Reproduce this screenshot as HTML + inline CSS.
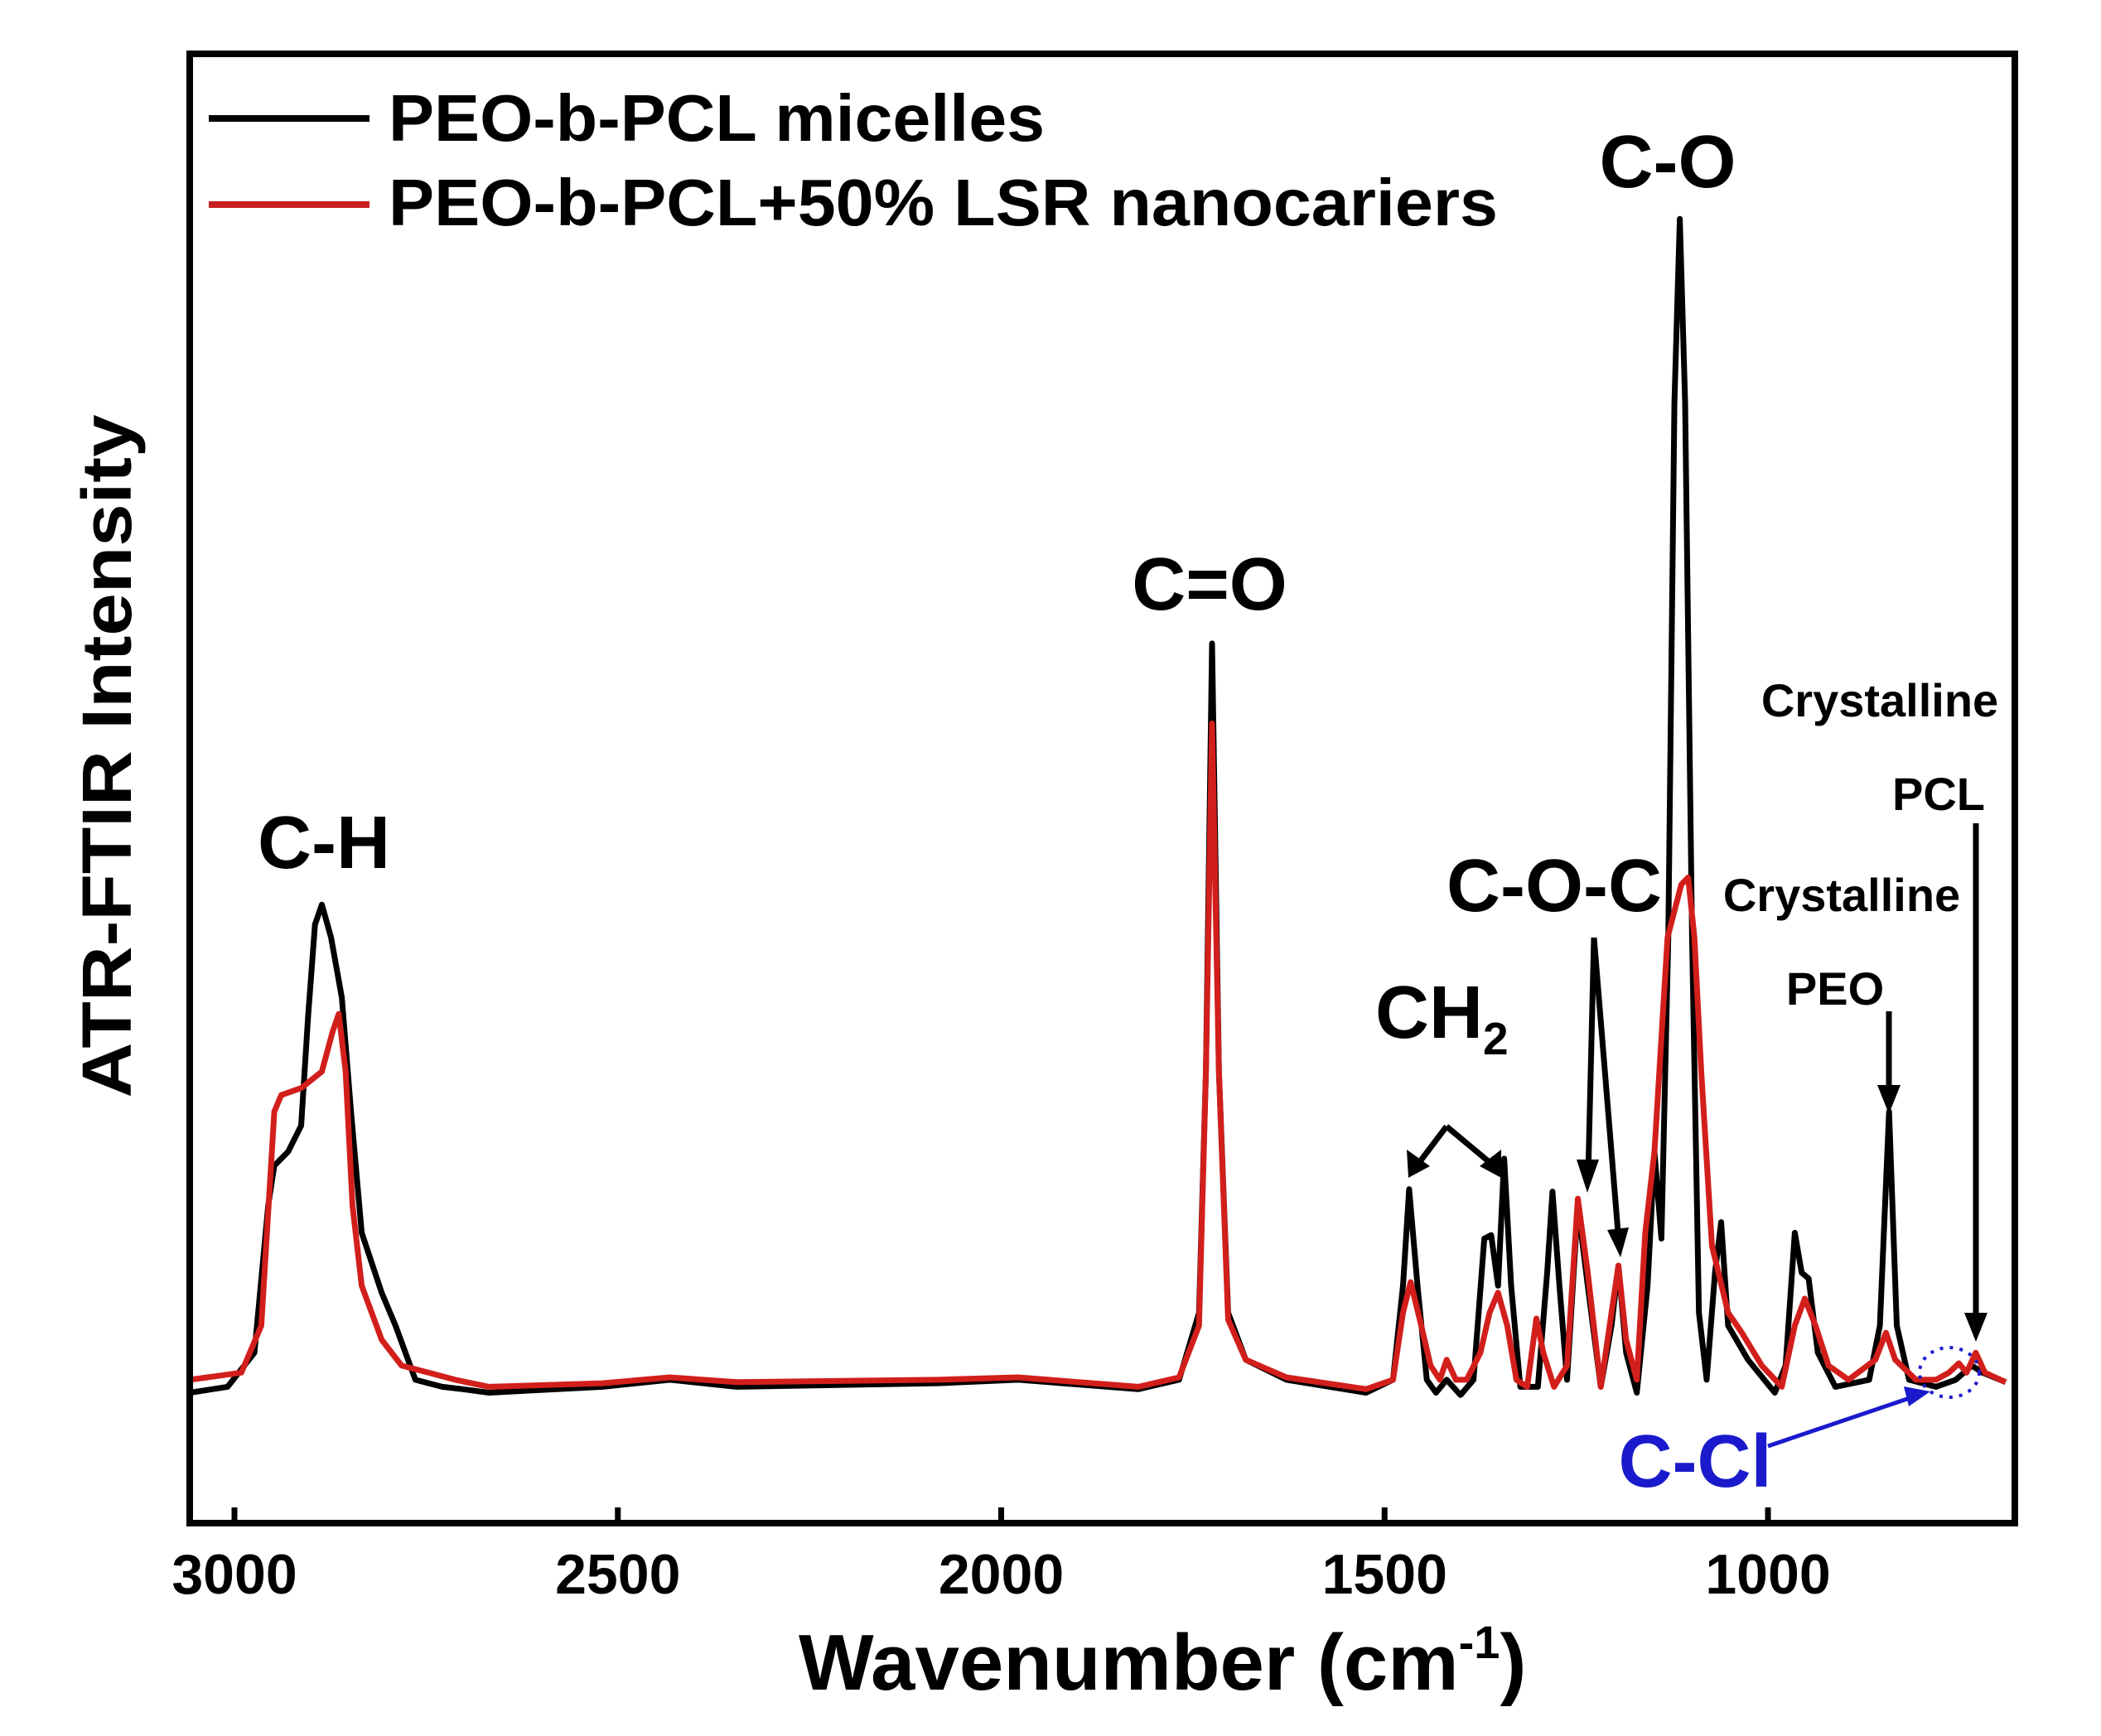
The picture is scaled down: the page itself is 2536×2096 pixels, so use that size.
<!DOCTYPE html>
<html><head><meta charset="utf-8"><style>
html,body{margin:0;padding:0;background:#fff;}
svg{display:block;font-family:"Liberation Sans",Arial,sans-serif;font-weight:bold;}
</style></head><body>
<svg id="chart" width="2536" height="2096" viewBox="0 0 2536 2096" xmlns="http://www.w3.org/2000/svg">
<rect x="0" y="0" width="2536" height="2096" fill="#fff"/>
<g id="series"></g>
<g id="ticks"></g>
<rect x="229" y="65" width="2203" height="1774" fill="none" stroke="#000" stroke-width="8"/>
<g>
<line x1="252" y1="143" x2="446" y2="143" stroke="#000" stroke-width="8"/>
<text x="469" y="170" font-size="80" textLength="792" lengthAdjust="spacingAndGlyphs">PEO-b-PCL micelles</text>
<line x1="252" y1="247" x2="446" y2="247" stroke="#c8201e" stroke-width="8"/>
<text x="469" y="272" font-size="80" textLength="1339" lengthAdjust="spacingAndGlyphs">PEO-b-PCL+50% LSR nanocariers</text>
</g>
<g fill="#000">
<text x="2013" y="226" font-size="90" text-anchor="middle">C-O</text>
<text x="1460" y="736" font-size="90" text-anchor="middle">C=O</text>
<text x="391" y="1048" font-size="90" text-anchor="middle">C-H</text>
<text x="1660" y="1253" font-size="90">CH<tspan font-size="55" dy="20">2</tspan></text>
<text x="1876" y="1100" font-size="90" text-anchor="middle">C-O-C</text>
<text x="2269" y="865" font-size="56" text-anchor="middle">Crystalline</text>
<text x="2340" y="978" font-size="56" text-anchor="middle">PCL</text>
<text x="2223" y="1100" font-size="56" text-anchor="middle">Crystalline</text>
<text x="2215" y="1213" font-size="56" text-anchor="middle">PEO</text>
<text x="2046" y="1795" font-size="90" text-anchor="middle" fill="#1a1acc">C-Cl</text>
</g>
<g stroke="#000" stroke-width="7" fill="none">
<polyline points="1746,1360 1712,1405"/>
<polyline points="1746,1360 1800,1405"/>
<line x1="1924" y1="1132" x2="1917" y2="1420"/>
<line x1="1924" y1="1132" x2="1954" y2="1500"/>
<line x1="2280" y1="1221" x2="2280" y2="1330"/>
<line x1="2385" y1="994" x2="2385" y2="1605"/>
<line x1="2134" y1="1746" x2="2305" y2="1688" stroke="#1a1acc" stroke-width="5"/>
<ellipse cx="2353" cy="1657" rx="36" ry="30" stroke="#1a1acc" stroke-width="4" stroke-dasharray="4 8"/>
</g>
<g fill="#000">
<polygon points="1700,1422 1698,1388 1726,1408"/>
<polygon points="1812,1422 1786,1408 1812,1388"/>
<polygon points="1903,1400 1930,1400 1916,1440"/>
<polygon points="1940,1485 1966,1482 1956,1518"/>
<polygon points="2266,1310 2294,1310 2280,1345"/>
<polygon points="2371,1585 2399,1585 2385,1620"/>
<polygon fill="#1a1acc" points="2330,1680 2298,1674 2304,1698"/>
</g>
<text transform="translate(158,913) rotate(-90)" font-size="84" text-anchor="middle" textLength="825" lengthAdjust="spacingAndGlyphs">ATR-FTIR Intensity</text>
<text x="964" y="2040" font-size="96">Wavenumber (cm<tspan font-size="56" dy="-38">-1</tspan><tspan dy="38">)</tspan></text>
</svg>
<script>
const tickValues = [3000, 2500, 2000, 1500, 1000];
const tickLabels = ["3000", "2500", "2000", "1500", "1000"];
const micellesWavenumber = [3058,3009,2974,2956,2948,2930,2913,2904,2895,2886,2874,2860,2848,2834,2808,2790,2764,2729,2703,2668,2520,2432,2345,2083,1978,1821,1768,1742,1733,1725,1716,1704,1681,1628,1524,1489,1476,1468,1457,1445,1433,1419,1401,1384,1370,1361,1352,1344,1335,1323,1300,1288,1281,1272,1262,1248,1235,1218,1204,1195,1185,1171,1157,1148,1139,1130,1122,1115,1108,1099,1090,1080,1069,1061,1052,1026,991,977,965,956,947,935,912,868,854,842,832,816,781,755,734,720,690];
const micellesIntensity = [0.6,1.1,4.0,16.5,19.9,21.1,23.3,32.5,40.4,42.1,39.3,34.2,24.5,14.2,9.1,6.3,1.7,1.1,0.9,0.6,1.1,1.7,1.1,1.4,1.7,0.9,1.7,7.4,27.9,64.3,27.9,7.4,3.4,1.7,0.6,1.7,9.7,17.9,9.7,1.7,0.6,1.7,0.4,1.7,13.7,14.0,9.7,20.5,9.7,1.1,1.1,10.8,17.7,9.7,1.7,16.5,9.7,1.1,6.3,11.4,4.0,0.6,9.7,21.1,13.7,39.3,84.8,100.4,84.8,39.3,7.4,1.7,10.8,15.1,6.3,3.4,0.6,2.9,14.2,10.8,10.3,4.0,1.1,1.7,6.3,24.5,6.3,1.7,1.1,1.7,2.9,2.3,1.5];
const nanoWavenumber = [3058,2991,2965,2948,2939,2913,2886,2872,2864,2855,2846,2834,2808,2782,2747,2712,2668,2520,2432,2345,2083,1978,1821,1768,1742,1733,1725,1716,1704,1681,1628,1524,1489,1476,1466,1454,1440,1428,1419,1407,1393,1375,1363,1352,1340,1328,1314,1302,1293,1279,1262,1248,1235,1218,1204,1195,1185,1171,1160,1148,1131,1113,1104,1096,1087,1073,1052,1034,1008,982,965,952,938,921,895,860,846,834,807,781,764,751,741,729,717,690];
const nanoIntensity = [1.7,2.3,6.3,24.5,25.9,26.5,27.9,31.3,32.8,27.9,16.5,9.7,5.1,2.9,2.3,1.7,1.1,1.4,1.9,1.5,1.7,1.9,1.1,1.9,6.3,27.9,57.5,27.9,6.8,3.4,1.9,0.9,1.7,7.4,10.0,6.8,2.9,1.7,3.4,1.7,1.7,4.0,7.4,9.1,6.3,1.7,1.1,6.9,4.0,1.1,2.9,17.1,10.8,1.1,7.4,11.4,5.1,1.7,14.2,21.1,39.3,43.8,44.4,39.3,27.9,13.1,7.4,5.7,2.9,1.1,6.3,8.6,6.3,2.9,1.7,3.4,5.7,3.4,1.7,1.7,2.3,3.1,2.3,4.0,2.3,1.5];

const X0 = 283, PX_PER_UNIT = 0.9255;
function xScale(w){ return X0 + (3000 - w) * PX_PER_UNIT; }
function yScale(v){ return 1690 - v * 14.2; }
const NS = "http://www.w3.org/2000/svg";

const seriesG = document.getElementById('series');
function drawSeries(ws, vs, color, name){
  const pl = document.createElementNS(NS, 'polyline');
  pl.setAttribute('points', ws.map((w,i)=> xScale(w).toFixed(1)+','+yScale(vs[i]).toFixed(1)).join(' '));
  pl.setAttribute('fill','none');
  pl.setAttribute('stroke', color);
  pl.setAttribute('stroke-width','7');
  pl.setAttribute('stroke-linejoin','round');
  
  
  seriesG.appendChild(pl);
}
drawSeries(micellesWavenumber, micellesIntensity, '#000', 'series-micelles');
drawSeries(nanoWavenumber, nanoIntensity, '#d21f1c', 'series-nanocarriers');

const ticksG = document.getElementById('ticks');
tickValues.forEach((t,i)=>{
  const x = xScale(t);
  const ln = document.createElementNS(NS,'line');
  ln.setAttribute('x1',x); ln.setAttribute('x2',x);
  ln.setAttribute('y1',1839); ln.setAttribute('y2',1820);
  ln.setAttribute('stroke','#000'); ln.setAttribute('stroke-width','7');
  
  
  ticksG.appendChild(ln);
  const tx = document.createElementNS(NS,'text');
  tx.setAttribute('x',x); tx.setAttribute('y',1924);
  tx.setAttribute('font-size','68'); tx.setAttribute('text-anchor','middle');
  tx.textContent = tickLabels[i];
  
  
  ticksG.appendChild(tx);
});
</script>
</body></html>
